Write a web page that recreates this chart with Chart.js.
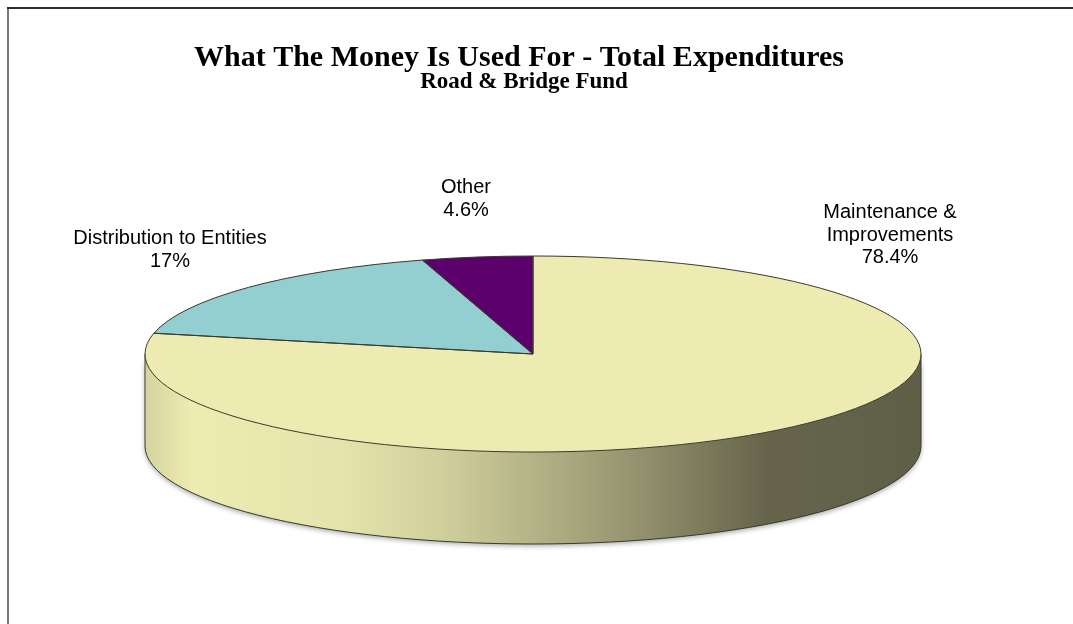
<!DOCTYPE html>
<html>
<head>
<meta charset="utf-8">
<script src="https://cdn.jsdelivr.net/npm/chart.js@4.4.1/dist/chart.umd.min.js"></script>
<style>
  html, body { margin: 0; padding: 0; background: #fff; }
  canvas { display: block; }
</style>
</head>
<body>
<canvas id="chart" width="1073" height="624"></canvas>
<script>
// Expenditure shares (percent of total)
const categories = ['Maintenance &\nImprovements', 'Distribution to Entities', 'Other'];
const shares = [78.4, 17, 4.6];
const sliceColors = ['#EDEBB1', '#93CFD0', '#5C006C'];
const chartTitle = 'What The Money Is Used For - Total Expenditures';
const chartSubtitle = 'Road & Bridge Fund';

// Disc appearance
const PIE_RADIUS = 388;          // horizontal radius of the disc
const TILT = 98 / 388;           // vertical squash of the disc (viewing angle)
const DEPTH = 92;                // thickness of the disc
const OUTLINE = '#3a3a2c';
// Label block centres, relative to the disc centre
const labelOffsets = [[357, -119], [-363, -104], [-67, -155]];
// Side-wall lighting across the disc width (position, brightness)
const sideLight = [[0, 0.9], [0.06, 1.0], [0.25, 0.97], [0.38, 0.88], [0.5, 0.76],
                   [0.62, 0.64], [0.72, 0.52], [0.8, 0.43], [1, 0.4]];

function shade(hex, f) {
  const n = parseInt(hex.slice(1), 16);
  const r = Math.round(((n >> 16) & 255) * f);
  const g = Math.round(((n >> 8) & 255) * f);
  const b = Math.round((n & 255) * f);
  return `rgb(${r},${g},${b})`;
}

// visible part [0, PI] of an angular interval
function frontSpan(a0, a1) {
  const TAU = Math.PI * 2;
  const spans = [];
  for (let k = -2; k <= 2; k++) {
    const s = Math.max(a0 + k * TAU, 0);
    const e = Math.min(a1 + k * TAU, Math.PI);
    if (e > s) spans.push([s, e]);
  }
  return spans;
}

const pie3d = {
  id: 'pie3d',
  beforeDraw(chart) {
    const ctx = chart.ctx;
    ctx.save();
    ctx.fillStyle = '#ffffff';
    ctx.fillRect(0, 0, chart.width, chart.height);
    // frame
    ctx.fillStyle = '#7a7a7a';
    ctx.fillRect(7, 8, 2, chart.height - 8);
    ctx.fillStyle = '#2e2e2e';
    ctx.fillRect(7, 7, chart.width - 7, 2);
    // titles
    ctx.fillStyle = '#000';
    ctx.textAlign = 'center';
    ctx.textBaseline = 'alphabetic';
    ctx.font = 'bold 30px "Liberation Serif", "Times New Roman", serif';
    ctx.fillText(chartTitle, 519, 66);
    ctx.font = 'bold 23px "Liberation Serif", "Times New Roman", serif';
    ctx.fillText(chartSubtitle, 524, 88);
    ctx.restore();
  },
  beforeDatasetsDraw(chart) {
    const ctx = chart.ctx;
    const arcs = chart.getDatasetMeta(0).data;
    const {x, y, outerRadius: r} = arcs[0].getProps(['x', 'y', 'outerRadius'], true);
    const ry = r * TILT;
    // side wall of the disc, front half only
    arcs.forEach((arc, i) => {
      const {startAngle, endAngle} = arc.getProps(['startAngle', 'endAngle'], true);
      frontSpan(startAngle, endAngle).forEach(([s, e]) => {
        const grad = ctx.createLinearGradient(x - r, 0, x + r, 0);
        sideLight.forEach(([t, f]) => grad.addColorStop(t, shade(sliceColors[i], f)));
        ctx.save();
        ctx.beginPath();
        ctx.ellipse(x, y, r, ry, 0, s, e, false);
        ctx.lineTo(x + r * Math.cos(e), y + ry * Math.sin(e) + DEPTH);
        ctx.ellipse(x, y + DEPTH, r, ry, 0, e, s, true);
        ctx.closePath();
        ctx.shadowColor = 'rgba(0,0,0,0.35)';
        ctx.shadowBlur = 5;
        ctx.shadowOffsetY = 2;
        ctx.fillStyle = grad;
        ctx.fill();
        ctx.shadowColor = 'transparent';
        ctx.strokeStyle = OUTLINE;
        ctx.lineWidth = 1;
        ctx.beginPath();
        ctx.ellipse(x, y + DEPTH, r, ry, 0, s, e, false);
        ctx.stroke();
        [s, e].forEach(a => {
          ctx.beginPath();
          ctx.moveTo(x + r * Math.cos(a), y + ry * Math.sin(a));
          ctx.lineTo(x + r * Math.cos(a), y + ry * Math.sin(a) + DEPTH);
          ctx.stroke();
        });
        ctx.restore();
      });
    });
    // tilt the top face
    ctx.save();
    ctx.translate(x, y);
    ctx.scale(1, TILT);
    ctx.translate(-x, -y);
  },
  afterDatasetsDraw(chart) {
    const ctx = chart.ctx;
    ctx.restore();
    const arcs = chart.getDatasetMeta(0).data;
    ctx.save();
    ctx.strokeStyle = OUTLINE;
    ctx.lineWidth = 1;
    arcs.forEach(arc => {
      const {x, y, outerRadius: r, startAngle, endAngle} =
        arc.getProps(['x', 'y', 'outerRadius', 'startAngle', 'endAngle'], true);
      const ry = r * TILT;
      ctx.beginPath();
      ctx.moveTo(x, y);
      ctx.ellipse(x, y, r, ry, 0, startAngle, endAngle, false);
      ctx.closePath();
      ctx.stroke();
    });
    // data labels
    ctx.fillStyle = '#000';
    ctx.textAlign = 'center';
    ctx.textBaseline = 'middle';
    ctx.font = '20px "Liberation Sans", Arial, sans-serif';
    const lineH = 22.7;
    arcs.forEach((arc, i) => {
      const {x, y} = arc.getProps(['x', 'y'], true);
      const lines = categories[i].split('\n').concat(shares[i] + '%');
      const cx = x + labelOffsets[i][0];
      const cy = y + labelOffsets[i][1];
      lines.forEach((t, k) => {
        ctx.fillText(t, cx, cy + (k - (lines.length - 1) / 2) * lineH);
      });
    });
    ctx.restore();
  }
};

new Chart(document.getElementById('chart'), {
  type: 'pie',
  data: {
    labels: categories,
    datasets: [{
      data: shares,
      backgroundColor: sliceColors,
      borderWidth: 0,
      radius: PIE_RADIUS,
      clip: false
    }]
  },
  options: {
    responsive: false,
    animation: false,
    devicePixelRatio: 1,
    layout: { padding: { left: 0, right: 7, top: 100, bottom: 16 } },
    plugins: {
      legend: { display: false },
      title: { display: false },
      tooltip: { enabled: false }
    }
  },
  plugins: [pie3d]
});
</script>
</body>
</html>
